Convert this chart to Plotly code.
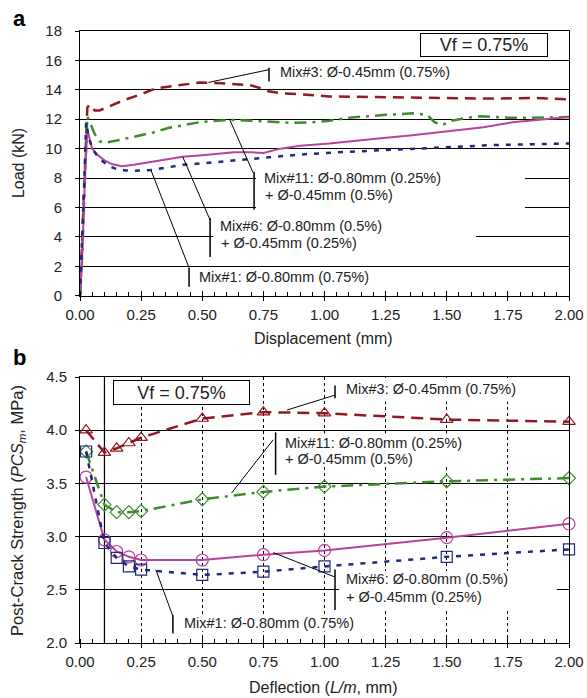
import plotly.graph_objects as go

# ---------------- data: panel a (load vs displacement) ----------------
mix3_x = [0, 0.01, 0.02, 0.03, 0.04, 0.06, 0.08, 0.12, 0.18, 0.25, 0.31, 0.40, 0.49, 0.58, 0.65, 0.70, 0.74, 0.77, 0.83, 0.90, 1.02, 1.20, 1.35, 1.50, 1.70, 1.85, 2.00]
mix3_y = [0, 4.0, 9.0, 12.8, 13.0, 12.6, 12.6, 12.9, 13.3, 13.7, 14.1, 14.3, 14.5, 14.45, 14.35, 14.3, 14.1, 13.9, 13.75, 13.7, 13.55, 13.5, 13.45, 13.45, 13.4, 13.45, 13.35]

mix11_x = [0, 0.01, 0.02, 0.03, 0.04, 0.06, 0.08, 0.10, 0.15, 0.22, 0.30, 0.36, 0.43, 0.49, 0.56, 0.63, 0.70, 0.80, 0.87, 0.95, 1.02, 1.10, 1.16, 1.25, 1.36, 1.42, 1.45, 1.48, 1.52, 1.58, 1.64, 1.75, 1.85, 2.00]
mix11_y = [0, 3.0, 8.0, 12.2, 11.8, 11.0, 10.5, 10.4, 10.55, 10.8, 11.1, 11.4, 11.6, 11.8, 11.9, 11.95, 11.9, 11.8, 11.75, 11.8, 11.9, 12.1, 12.2, 12.3, 12.4, 12.3, 11.8, 11.6, 11.9, 12.1, 12.2, 12.1, 12.1, 12.15]

mix6_x = [0, 0.01, 0.02, 0.03, 0.04, 0.05, 0.07, 0.10, 0.13, 0.17, 0.22, 0.29, 0.35, 0.42, 0.50, 0.63, 0.70, 0.75, 0.82, 0.90, 1.02, 1.10, 1.23, 1.35, 1.50, 1.65, 1.77, 1.90, 2.00]
mix6_y = [0, 3.0, 8.0, 11.3, 10.6, 10.0, 9.6, 9.2, 8.95, 8.8, 8.9, 9.1, 9.3, 9.45, 9.55, 9.75, 9.75, 9.7, 10.0, 10.2, 10.35, 10.5, 10.7, 10.9, 11.15, 11.45, 11.8, 12.0, 12.15]

mix1_x = [0, 0.01, 0.02, 0.025, 0.035, 0.05, 0.08, 0.12, 0.16, 0.22, 0.29, 0.35, 0.42, 0.50, 0.63, 0.75, 0.90, 1.05, 1.23, 1.40, 1.50, 1.70, 1.85, 2.00]
mix1_y = [0, 4.0, 9.0, 11.8, 10.8, 10.0, 9.3, 8.8, 8.55, 8.5, 8.55, 8.7, 8.9, 9.0, 9.2, 9.4, 9.6, 9.75, 9.9, 10.05, 10.1, 10.25, 10.3, 10.35]

# ---------------- data: panel b (PCS vs deflection) ----------------
defl = [0.025, 0.1, 0.15, 0.2, 0.25, 0.5, 0.75, 1.0, 1.5, 2.0]
pcs_mix3 = [4.00, 3.79, 3.83, 3.88, 3.93, 4.11, 4.17, 4.16, 4.10, 4.08]
pcs_mix11 = [3.80, 3.30, 3.23, 3.23, 3.24, 3.35, 3.42, 3.47, 3.52, 3.55]
pcs_mix6 = [3.56, 2.97, 2.86, 2.81, 2.78, 2.78, 2.83, 2.87, 2.99, 3.12]
pcs_mix1 = [3.80, 2.94, 2.80, 2.72, 2.69, 2.64, 2.67, 2.72, 2.81, 2.88]

x_ticks = [0, 0.25, 0.5, 0.75, 1.0, 1.25, 1.5, 1.75, 2.0]
x_ticklabels = ["0.00", "0.25", "0.50", "0.75", "1.00", "1.25", "1.50", "1.75", "2.00"]
load_ticks = [0, 2, 4, 6, 8, 10, 12, 14, 16, 18]
pcs_ticks = [2.0, 2.5, 3.0, 3.5, 4.0, 4.5]
pcs_ticklabels = ["2.0", "2.5", "3.0", "3.5", "4.0", "4.5"]

RED = "#8E1B22"
GREEN = "#3E8C2E"
MAGENTA = "#B8429F"
BLUE = "#1F2A7C"
FONT = "Liberation Sans, Arial, sans-serif"

fig = go.Figure()

# panel a traces
fig.add_trace(go.Scatter(x=mix3_x, y=mix3_y, mode="lines", xaxis="x", yaxis="y",
                         line=dict(color=RED, width=2.5, dash="11px,7px")))
fig.add_trace(go.Scatter(x=mix11_x, y=mix11_y, mode="lines", xaxis="x", yaxis="y",
                         line=dict(color=GREEN, width=2.5, dash="12px,6px,3px,6px")))
fig.add_trace(go.Scatter(x=mix6_x, y=mix6_y, mode="lines", xaxis="x", yaxis="y",
                         line=dict(color=MAGENTA, width=2)))
fig.add_trace(go.Scatter(x=mix1_x, y=mix1_y, mode="lines", xaxis="x", yaxis="y",
                         line=dict(color=BLUE, width=2.5, dash="5px,7px")))

# panel b traces
fig.add_trace(go.Scatter(x=defl, y=pcs_mix3, mode="lines+markers", xaxis="x2", yaxis="y2", cliponaxis=False,
                         line=dict(color=RED, width=2.5, dash="12px,7px"),
                         marker=dict(symbol="triangle-up-open", size=11, color=RED, line=dict(width=1.2))))
fig.add_trace(go.Scatter(x=defl, y=pcs_mix11, mode="lines+markers", xaxis="x2", yaxis="y2", cliponaxis=False,
                         line=dict(color=GREEN, width=2.5, dash="12px,6px,3px,6px"),
                         marker=dict(symbol="diamond-open", size=10, color=GREEN, line=dict(width=1.2))))
fig.add_trace(go.Scatter(x=defl, y=pcs_mix6, mode="lines+markers", xaxis="x2", yaxis="y2", cliponaxis=False,
                         line=dict(color=MAGENTA, width=2),
                         marker=dict(symbol="circle-open", size=12, color=MAGENTA, line=dict(width=1.2))))
fig.add_trace(go.Scatter(x=defl, y=pcs_mix1, mode="lines+markers", xaxis="x2", yaxis="y2", cliponaxis=False,
                         line=dict(color=BLUE, width=2.5, dash="5px,7px"),
                         marker=dict(symbol="square-open", size=11, color=BLUE, line=dict(width=1.2))))

# invisible traces so the overlay axes (inner half of crossing major ticks) are drawn
fig.add_trace(go.Scatter(x=[0, 2], y=[0, 0], mode="lines", xaxis="x3", yaxis="y",
                         line=dict(width=0), hoverinfo="skip", opacity=0))
fig.add_trace(go.Scatter(x=[0, 2], y=[2, 2], mode="lines", xaxis="x4", yaxis="y2",
                         line=dict(width=0), hoverinfo="skip", opacity=0))

tickfont = dict(family=FONT, size=15, color="#222")
common_x = dict(range=[0, 2], tickvals=x_ticks, ticktext=x_ticklabels, showline=True, linecolor="black",
                linewidth=1, mirror=True, ticks="outside", ticklen=4, tickcolor="black",
                minor=dict(dtick=0.05, ticks="inside", ticklen=4, tickcolor="black", showgrid=False),
                tickfont=tickfont, zeroline=False, ticklabelstandoff=1, automargin=False)

fig.update_layout(
    width=587, height=698, autosize=False,
    margin=dict(l=80, r=18, t=31, b=55, autoexpand=False),
    paper_bgcolor="white", plot_bgcolor="white",
    showlegend=False,
    font=dict(family=FONT, size=14, color="#222"),
    xaxis=dict(common_x, anchor="y", showgrid=False),
    yaxis=dict(domain=[0.5675, 1.0], range=[0, 18], tickvals=load_ticks, showline=True, linecolor="black",
               mirror=True, ticks="outside", ticklen=4, tickcolor="black", showgrid=True, gridcolor="black",
               gridwidth=1, tickfont=tickfont, zeroline=False, ticklabelstandoff=10, automargin=False),
    xaxis2=dict(common_x, anchor="y2", showgrid=True, gridcolor="black", gridwidth=1, griddash="3px,3px"),
    yaxis2=dict(domain=[0, 0.4346], range=[2, 4.5], tickvals=pcs_ticks, ticktext=pcs_ticklabels, showline=True,
                linecolor="black", mirror=True, ticks="outside", ticklen=4, tickcolor="black", showgrid=True,
                gridcolor="black", gridwidth=1, tickfont=tickfont, zeroline=False, ticklabelstandoff=5,
                automargin=False),
    xaxis3=dict(overlaying="x", matches="x", anchor="y", range=[0, 2], tickvals=x_ticks, showticklabels=False,
                ticks="inside", ticklen=5, tickcolor="black", showgrid=False, showline=False, zeroline=False,
                automargin=False),
    xaxis4=dict(overlaying="x2", matches="x2", anchor="y2", range=[0, 2], tickvals=x_ticks, showticklabels=False,
                ticks="inside", ticklen=5, tickcolor="black", showgrid=False, showline=False, zeroline=False,
                automargin=False),
)

shapes = []
# white boxes behind label text (cover grid lines)
for xr, yr, (x0, x1, y0, y1) in [
    ("x", "y", (0.72, 1.82, 5.75, 8.6)),
    ("x", "y", (0.545, 1.62, 2.6, 5.4)),
    ("x2", "y2", (1.07, 1.92, 4.27, 4.49)),
    ("x2", "y2", (0.82, 1.68, 3.66, 3.97)),
    ("x2", "y2", (1.06, 1.95, 2.30, 2.68)),
    ("x2", "y2", (0.41, 1.22, 2.11, 2.27)),
]:
    shapes.append(dict(type="rect", xref=xr, yref=yr, x0=x0, x1=x1, y0=y0, y1=y1,
                       fillcolor="white", line=dict(width=0), layer="between"))
# solid reference line at 0.1 mm in panel b
shapes.append(dict(type="line", xref="x2", yref="y2", x0=0.1, x1=0.1, y0=2, y1=4.5,
                   line=dict(color="black", width=1.2), layer="between"))

# leader lines and label bars
leaders = [
    ("x", "y", 0.525, 14.5, 0.773, 15.37),
    ("x", "y", 0.613, 11.95, 0.708, 8.36),
    ("x", "y", 0.42, 9.45, 0.532, 5.15),
    ("x", "y", 0.29, 8.55, 0.446, 1.9),
    ("x2", "y2", 0.847, 4.19, 1.043, 4.33),
    ("x2", "y2", 0.62, 3.41, 0.79, 3.91),
    ("x2", "y2", 0.79, 2.85, 1.043, 2.62),
    ("x2", "y2", 0.31, 2.69, 0.38, 2.25),
]
for xr, yr, x0, y0, x1, y1 in leaders:
    shapes.append(dict(type="line", xref=xr, yref=yr, x0=x0, y0=y0, x1=x1, y1=y1,
                       line=dict(color="black", width=1)))
bars = [
    ("x", "y", 0.773, 14.56, 15.5),
    ("x", "y", 0.712, 5.84, 8.42),
    ("x", "y", 0.532, 2.63, 5.29),
    ("x", "y", 0.446, 0.6, 1.89),
    ("x2", "y2", 1.043, 4.30, 4.42),
    ("x2", "y2", 0.80, 3.58, 3.98),
    ("x2", "y2", 1.043, 2.31, 2.69),
    ("x2", "y2", 0.38, 2.09, 2.26),
]
for xr, yr, x, y0, y1 in bars:
    shapes.append(dict(type="line", xref=xr, yref=yr, x0=x, x1=x, y0=y0, y1=y1,
                       line=dict(color="black", width=1.5)))
fig.update_layout(shapes=shapes)

lab = dict(family=FONT, size=14.5, color="#222")
annotations = [
    dict(xref="x", yref="y", x=0.81, y=15.24, text="Mix#3: Ø-0.45mm (0.75%)"),
    dict(xref="x", yref="y", x=0.745, y=8.0, text="Mix#11: Ø-0.80mm (0.25%)"),
    dict(xref="x", yref="y", x=0.75, y=6.86, text="+ Ø-0.45mm (0.5%)"),
    dict(xref="x", yref="y", x=0.564, y=4.75, text="Mix#6: Ø-0.80mm (0.5%)"),
    dict(xref="x", yref="y", x=0.568, y=3.59, text="+ Ø-0.45mm (0.25%)"),
    dict(xref="x", yref="y", x=0.48, y=1.27, text="Mix#1: Ø-0.80mm (0.75%)"),
    dict(xref="x2", yref="y2", x=1.08, y=4.39, text="Mix#3: Ø-0.45mm (0.75%)"),
    dict(xref="x2", yref="y2", x=0.83, y=3.88, text="Mix#11: Ø-0.80mm (0.25%)"),
    dict(xref="x2", yref="y2", x=0.83, y=3.73, text="+ Ø-0.45mm (0.5%)"),
    dict(xref="x2", yref="y2", x=1.08, y=2.60, text="Mix#6: Ø-0.80mm (0.5%)"),
    dict(xref="x2", yref="y2", x=1.08, y=2.43, text="+ Ø-0.45mm (0.25%)"),
    dict(xref="x2", yref="y2", x=0.417, y=2.19, text="Mix#1: Ø-0.80mm (0.75%)"),
]
for a in annotations:
    a.update(xanchor="left", yanchor="middle", showarrow=False, align="left", font=lab)

# Vf boxes
annotations.append(dict(xref="x", yref="y", x=1.652, y=17.08, text="Vf = 0.75%", showarrow=False,
                        xanchor="center", yanchor="middle", width=124, height=20,
                        bordercolor="black", borderwidth=1, bgcolor="white",
                        font=dict(family=FONT, size=18, color="#222")))
annotations.append(dict(xref="x2", yref="y2", x=0.415, y=4.355, text="Vf = 0.75%", showarrow=False,
                        xanchor="center", yanchor="middle", width=133, height=21,
                        bordercolor="black", borderwidth=1, bgcolor="white",
                        font=dict(family=FONT, size=18, color="#222")))

# axis titles and panel letters
tf = dict(family=FONT, size=16, color="#222")
annotations += [
    dict(xref="paper", yref="paper", x=-0.127, y=0.784, text="Load (kN)", textangle=-90, showarrow=False,
         xanchor="center", yanchor="middle", font=tf),
    dict(xref="paper", yref="paper", x=-0.127, y=0.2173,
         text="Post-Crack Strength (<i>PCS</i><sub><i>m</i></sub>, MPa)", textangle=-90, showarrow=False,
         xanchor="center", yanchor="middle", font=dict(family=FONT, size=16.5, color="#222")),
    dict(xref="paper", yref="paper", x=0.497, y=0.498, text="Displacement (mm)", showarrow=False,
         xanchor="center", yanchor="middle", font=tf),
    dict(xref="paper", yref="paper", x=0.497, y=-0.0735, text="Deflection (<i>L/m</i>, mm)", showarrow=False,
         xanchor="center", yanchor="middle", font=tf),
    dict(xref="paper", yref="paper", x=-0.123, y=1.021, text="<b>a</b>", showarrow=False,
         xanchor="center", yanchor="middle", font=dict(family=FONT, size=22, color="black")),
    dict(xref="paper", yref="paper", x=-0.123, y=0.467, text="<b>b</b>", showarrow=False,
         xanchor="center", yanchor="middle", font=dict(family=FONT, size=22, color="black")),
]
fig.update_layout(annotations=annotations)

# remove the page's default body margin so the 587x698 figure fills the window exactly
fig.write_html("out.html",
               config={"displayModeBar": False, "responsive": False},
               post_script="document.documentElement.style.overflow='hidden';"
                           "document.body.style.margin='0';document.body.style.overflow='hidden';")
